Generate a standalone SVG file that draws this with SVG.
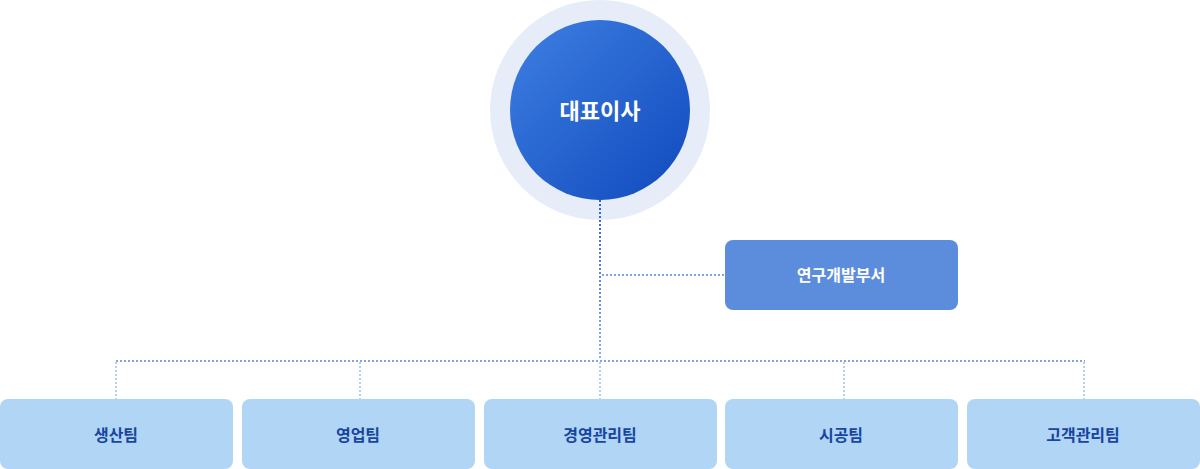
<svg xmlns="http://www.w3.org/2000/svg" width="1200" height="469" viewBox="0 0 1200 469">
<style>
.dot{fill:none;stroke-width:2;stroke-dasharray:2 2}
.team rect{fill:#b1d5f5}
.team text{font-family:"Noto Sans CJK KR","Noto Sans",sans-serif;font-size:16px;font-weight:700;fill:#1745a0;text-anchor:middle;dominant-baseline:central}
.wt{font-family:"Noto Sans CJK KR","Noto Sans",sans-serif;font-weight:700;fill:#fff;text-anchor:middle;dominant-baseline:central}
</style>
<defs>
<linearGradient id="ceo" x1="0" y1="0" x2="1" y2="1">
<stop offset="0" stop-color="#3f7fe2"/>
<stop offset="1" stop-color="#0f4abd"/>
</linearGradient>
<linearGradient id="vline" gradientUnits="userSpaceOnUse" x1="0" y1="200" x2="0" y2="360">
<stop offset="0" stop-color="#2a63cf"/>
<stop offset="1" stop-color="#8db0e8"/>
</linearGradient>
</defs>
<g id="ceo-node">
<circle cx="600" cy="110" r="110" fill="#e6ecf8"/>
<circle cx="600" cy="110" r="90" fill="url(#ceo)"/>
<text class="wt" x="600" y="109" font-size="22">대표이사</text>
</g>
<g id="rnd">
<rect x="725" y="240" width="233" height="70" rx="8" fill="#5b8ddc"/>
<text class="wt" x="841" y="274" font-size="16">연구개발부서</text>
</g>
<g id="team1" class="team"><rect x="0" y="399" width="233" height="70" rx="8"/><text x="116" y="434">생산팀</text></g>
<g id="team2" class="team"><rect x="242" y="399" width="233" height="70" rx="8"/><text x="358" y="434">영업팀</text></g>
<g id="team3" class="team"><rect x="484" y="399" width="233" height="70" rx="8"/><text x="600" y="434">경영관리팀</text></g>
<g id="team4" class="team"><rect x="725" y="399" width="233" height="70" rx="8"/><text x="841" y="434">시공팀</text></g>
<g id="team5" class="team"><rect x="967" y="399" width="233" height="70" rx="8"/><text x="1083" y="434">고객관리팀</text></g>
<g id="connectors">
<line class="dot" x1="600" y1="200" x2="600" y2="360" stroke="url(#vline)"/>
<line class="dot" x1="602" y1="275" x2="725" y2="275" stroke="#7fa4e0"/>
<line class="dot" x1="116" y1="361" x2="1085" y2="361" stroke="#7fa4e0"/>
<g stroke="#b3d0f3">
<line class="dot" x1="116" y1="362" x2="116" y2="399"/>
<line class="dot" x1="360" y1="362" x2="360" y2="399"/>
<line class="dot" x1="600" y1="362" x2="600" y2="399"/>
<line class="dot" x1="844" y1="362" x2="844" y2="399"/>
<line class="dot" x1="1084" y1="362" x2="1084" y2="399"/>
</g>
</g>
</svg>
